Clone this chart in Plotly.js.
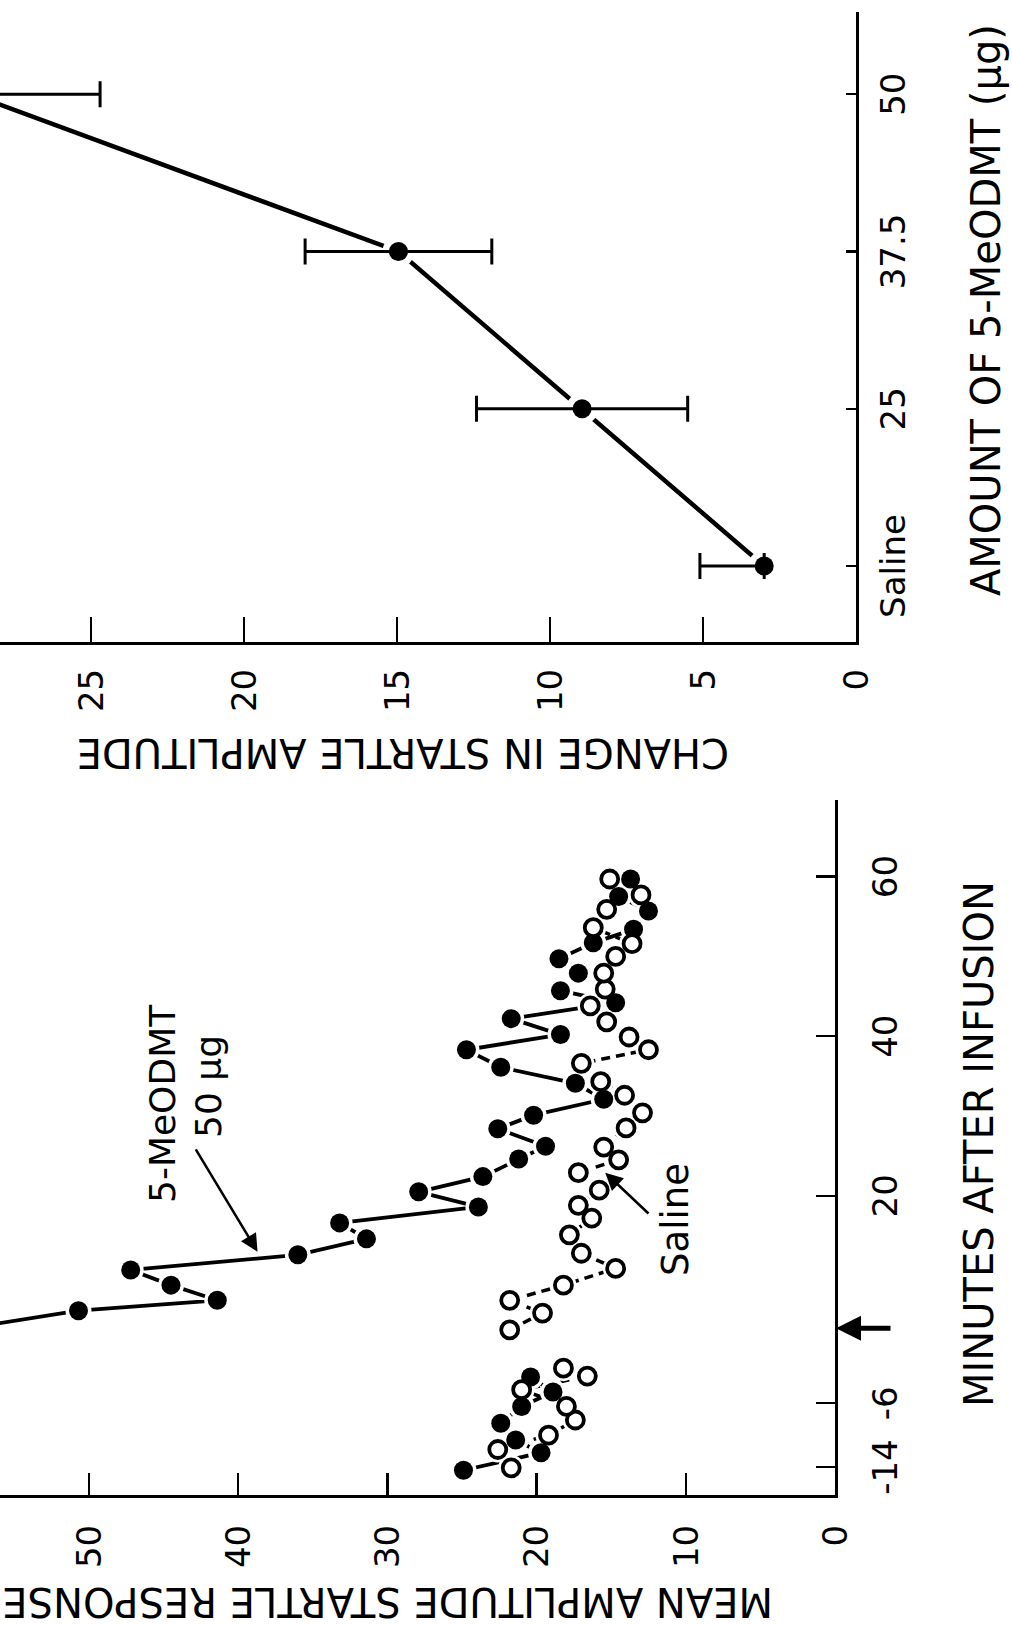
<!DOCTYPE html>
<html>
<head>
<meta charset="utf-8">
<script src="https://cdn.plot.ly/plotly-3.0.1.min.js"></script>
<style>
html,body{margin:0;padding:0;background:#fff;width:1012px;height:1625px;overflow:hidden}
#wrap{position:absolute;left:0;top:0;width:1625px;height:1012px;transform-origin:0 0;transform:translate(0px,1625px) rotate(-90deg);}
#chart{width:1625px;height:1012px}
</style>
</head>
<body>
<div id="wrap"><div id="chart"></div></div>
<script>
// ---- Left panel: mean amplitude of startle response vs minutes after infusion ----
const drugPreMin  = [-14.4, -12.2, -10.6, -8.5, -6.4, -4.6, -2.7];
const drugPreAmp  = [24.9, 19.7, 21.4, 22.4, 21.0, 18.9, 20.4];
const drugPostMin = [3.3, 5.6, 6.9, 8.8, 10.7, 12.6, 14.6, 16.6, 18.6, 20.5, 22.4, 24.6, 26.2, 28.4, 30.1,
                     32.1, 34.1, 36.1, 38.3, 40.2, 42.2, 44.2, 45.7, 47.9, 49.7, 51.7, 53.4, 55.7, 57.5, 59.7];
const drugPostAmp = [58.5, 50.7, 41.4, 44.5, 47.2, 36.0, 31.4, 33.2, 23.9, 27.9, 23.6, 21.2, 19.4, 22.6, 20.2,
                     15.5, 17.4, 22.4, 24.7, 18.4, 21.7, 14.7, 18.4, 17.2, 18.5, 16.2, 13.5, 12.5, 14.5, 13.7];
const salinePreMin  = [-14.1, -11.8, -10.0, -8.1, -6.4, -4.3, -2.6, -1.6];
const salinePreAmp  = [21.7, 22.6, 19.2, 17.4, 18.0, 21.0, 16.6, 18.2];
const salinePostMin = [3.2, 5.3, 6.9, 8.8, 10.9, 12.8, 15.1, 17.2, 18.8, 20.7, 22.9, 24.5, 26.1, 28.5, 30.4,
                       32.6, 34.3, 36.6, 38.3, 39.9, 41.8, 43.8, 45.9, 47.9, 50.0, 51.6, 53.6, 55.9, 57.7, 59.7];
const salinePostAmp = [21.8, 19.6, 21.8, 18.2, 14.7, 17.0, 17.8, 16.3, 17.2, 15.8, 17.2, 14.5, 15.5, 14.0, 12.9,
                       14.1, 15.7, 17.0, 12.5, 13.8, 15.3, 16.4, 15.4, 15.5, 14.7, 13.6, 16.2, 15.3, 13.0, 15.1];
const minuteTicks = [-14, -6, 20, 40, 60];
const minuteTickText = ["-14", "-6", "20", "40", "60"];
const amplitudeTicks = [0, 10, 20, 30, 40, 50];
const infusionMinute = 3.4;

// ---- Right panel: change in startle amplitude vs amount of 5-MeODMT ----
const doseLabels   = ["Saline", "25", "37.5", "50"];
const doseChange   = [3.0, 8.95, 14.95, 28.9];
const doseErrPlus  = [2.1, 3.45, 3.05, 4.2];
const doseErrMinus = [0, 3.45, 3.05, 4.2];
const changeTicks  = [0, 5, 10, 15, 20, 25];

const BLACK = '#000';
const lineTrace = (x, y, xa, ya, w, dash) => ({type:'scatter', mode:'lines', x, y, xaxis:xa, yaxis:ya,
  line:{color:BLACK, width:w, dash:dash||'solid'}, hoverinfo:'skip'});
const haloTrace = (x, y, xa, ya, s) => ({type:'scatter', mode:'markers', x, y, xaxis:xa, yaxis:ya,
  marker:{color:'#fff', size:s, line:{width:0}}, hoverinfo:'skip'});
const filledTrace = (x, y, xa, ya, s) => ({type:'scatter', mode:'markers', x, y, xaxis:xa, yaxis:ya,
  marker:{color:BLACK, size:s, line:{width:0}}});
const openTrace = (x, y, xa, ya, s) => ({type:'scatter', mode:'markers', x, y, xaxis:xa, yaxis:ya,
  marker:{color:'#fff', size:s, line:{color:BLACK, width:3.8}}});

const doseMarkers = filledTrace(doseLabels, doseChange, 'x2', 'y2', 19);
doseMarkers.error_y = {type:'data', symmetric:false, array:doseErrPlus, arrayminus:doseErrMinus,
  color:BLACK, thickness:3, width:13};

const traces = [
  lineTrace(drugPreMin, drugPreAmp, 'x', 'y', 3.8),
  lineTrace(drugPostMin, drugPostAmp, 'x', 'y', 3.8),
  lineTrace(salinePreMin, salinePreAmp, 'x', 'y', 3.6, '9px,6px'),
  lineTrace(salinePostMin, salinePostAmp, 'x', 'y', 3.6, '9px,6px'),
  haloTrace(drugPreMin, drugPreAmp, 'x', 'y', 26),
  haloTrace(drugPostMin, drugPostAmp, 'x', 'y', 26),
  haloTrace(salinePreMin, salinePreAmp, 'x', 'y', 26),
  haloTrace(salinePostMin, salinePostAmp, 'x', 'y', 26),
  filledTrace(drugPreMin, drugPreAmp, 'x', 'y', 19),
  filledTrace(drugPostMin, drugPostAmp, 'x', 'y', 19),
  openTrace(salinePreMin, salinePreAmp, 'x', 'y', 17),
  openTrace(salinePostMin, salinePostAmp, 'x', 'y', 17),
  lineTrace(doseLabels, doseChange, 'x2', 'y2', 4.5),
  haloTrace(doseLabels, doseChange, 'x2', 'y2', 32),
  doseMarkers
];

const W = 1625, H = 1012;
const px = v => v / W, py = v => 1 - v / H;
const axisCommon = {showline:true, linecolor:BLACK, linewidth:3, ticks:'inside', tickcolor:BLACK, tickwidth:2.5,
  showgrid:false, zeroline:false, fixedrange:true, automargin:false,
  tickfont:{family:'DejaVu Sans', size:34, color:BLACK}};
const titleFont = {family:'DejaVu Sans', size:40, color:BLACK};

const layout = {
  width:W, height:H, margin:{l:0, r:0, t:0, b:0},
  paper_bgcolor:'#fff', plot_bgcolor:'rgba(0,0,0,0)', showlegend:false,
  font:{family:'DejaVu Sans', color:BLACK},
  xaxis:Object.assign({}, axisCommon, {domain:[px(130), px(825)], range:[-17.5, 69.6], anchor:'y',
    tickmode:'array', tickvals:minuteTicks, ticktext:minuteTickText, ticklen:19, ticklabelstandoff:18}),
  yaxis:Object.assign({}, axisCommon, {domain:[py(835), 1], range:[0, 55.96], anchor:'x',
    tickmode:'array', tickvals:amplitudeTicks, ticklen:22, ticklabelstandoff:20}),
  xaxis2:Object.assign({}, axisCommon, {domain:[px(983), px(1612.6)], range:[-0.483, 3.52], anchor:'y2',
    type:'category', ticklen:10, ticklabelstandoff:5}),
  yaxis2:Object.assign({}, axisCommon, {domain:[py(856), 1], range:[0, 27.97], anchor:'x2',
    tickmode:'array', tickvals:changeTicks, ticklen:25, ticklabelstandoff:17}),
  annotations:[
    {xref:'x', yref:'y', x:31.6, y:45.1, text:'5-MeODMT', showarrow:false,
     font:{family:'DejaVu Sans', size:36, color:BLACK}, xanchor:'center', yanchor:'middle'},
    {xref:'x', yref:'y', x:33.7, y:42.0, text:'50 μg', showarrow:false,
     font:{family:'DejaVu Sans', size:36, color:BLACK}, xanchor:'center', yanchor:'middle'},
    {xref:'x', yref:'y', axref:'x', ayref:'y', x:13.0, y:38.7, ax:26.0, ay:42.9, text:'', showarrow:true,
     arrowhead:2, arrowsize:1.4, arrowwidth:2.5, arrowcolor:BLACK, standoff:0},
    {xref:'x', yref:'y', x:17.0, y:10.7, text:'Saline', showarrow:false,
     font:{family:'DejaVu Sans', size:37, color:BLACK}, xanchor:'center', yanchor:'middle'},
    {xref:'x', yref:'y', axref:'x', ayref:'y', x:22.9, y:15.4, ax:17.6, ay:12.4, text:'', showarrow:true,
     arrowhead:2, arrowsize:1.4, arrowwidth:2.5, arrowcolor:BLACK, standoff:0},
    {xref:'x', yref:'paper', x:infusionMinute, y:py(836), ax:0, ay:56, text:'', showarrow:true,
     arrowhead:2, arrowsize:1, arrowwidth:5, arrowcolor:BLACK, standoff:0},
    {xref:'paper', yref:'paper', x:px(480.5), y:py(979), text:'MINUTES AFTER INFUSION', showarrow:false,
     font:titleFont, xanchor:'center', yanchor:'middle'},
    {xref:'paper', yref:'paper', x:px(1314.5), y:py(986), text:'AMOUNT OF 5-MeODMT (μg)', showarrow:false,
     font:titleFont, xanchor:'center', yanchor:'middle'},
    {xref:'paper', yref:'paper', x:px(872), y:py(403), text:'CHANGE IN STARTLE AMPLITUDE', showarrow:false,
     font:titleFont, textangle:-90, xanchor:'center', yanchor:'middle'},
    {xref:'paper', yref:'paper', x:px(23), y:py(388), text:'MEAN AMPLITUDE STARTLE RESPONSE', showarrow:false,
     font:titleFont, textangle:-90, xanchor:'center', yanchor:'middle'}
  ]
};

Plotly.newPlot('chart', traces, layout, {staticPlot:true, displayModeBar:false});
</script>
</body>
</html>
